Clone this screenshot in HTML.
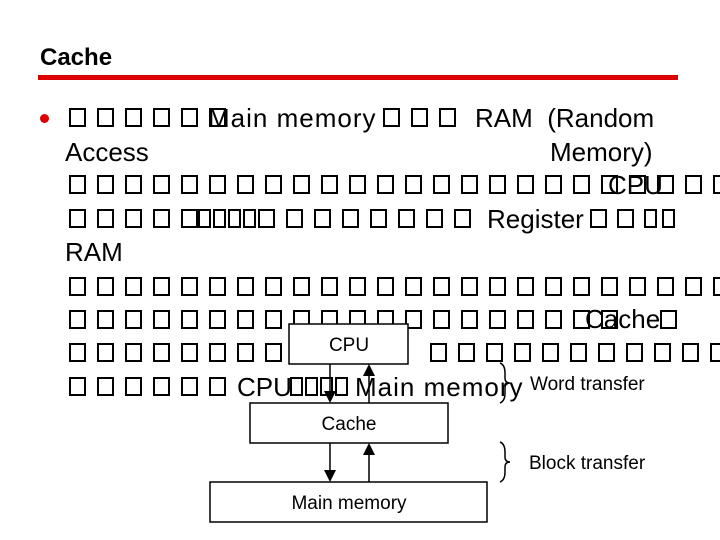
<!DOCTYPE html>
<html><head><meta charset="utf-8"><style>
body{margin:0;width:720px;height:540px;background:#fff;position:relative;overflow:hidden;font-family:"Liberation Sans",sans-serif;}
.t{position:absolute;font-size:26px;line-height:26px;color:#000;white-space:nowrap;}
.b{position:absolute;width:17px;height:19px;border:2px solid #000;box-sizing:border-box;}
.n{position:absolute;width:13px;height:19px;border:2px solid #000;box-sizing:border-box;}
</style></head><body>
<div class="t" style="left:40px;top:45px;font-weight:bold;font-size:24px;">Cache</div>
<div style="position:absolute;left:38px;top:75px;width:640px;height:5px;background:#d00;"></div>
<div style="position:absolute;left:40px;top:114px;width:9px;height:9px;border-radius:50%;background:#d00;"></div>
<div id="c"></div>
<div class="t" style="left:208px;top:105px;letter-spacing:1px;">Main memory</div>
<div class="t" style="left:475px;top:105px;">RAM&nbsp; (Random</div>
<div class="t" style="left:65px;top:139px;">Access</div>
<div class="t" style="left:550px;top:139px;">Memory)</div>
<div class="t" style="left:608px;top:172px;">CPU</div>
<div class="t" style="left:487px;top:206px;">Register</div>
<div class="t" style="left:65px;top:239px;">RAM</div>
<div class="t" style="left:585px;top:306px;">Cache</div>
<div class="t" style="left:237px;top:374px;">CPU</div>
<div class="t" style="left:355px;top:374px;letter-spacing:1px;">Main memory</div>
<svg style="position:absolute;left:0;top:0" width="720" height="540">
<g fill="#fff" stroke="#000" stroke-width="1.5">
<rect x="289" y="324" width="119" height="40"/>
<rect x="250" y="403" width="198" height="40"/>
<rect x="210" y="482" width="277" height="40"/>
</g>
<g font-family="Liberation Sans,sans-serif" font-size="19" text-anchor="middle">
<text x="349" y="351">CPU</text>
<text x="349" y="430">Cache</text>
<text x="349" y="509">Main memory</text>
</g>
<g font-family="Liberation Sans,sans-serif" font-size="19">
<text x="530" y="390">Word transfer</text>
<text x="529" y="469">Block transfer</text>
</g>
<g stroke="#000" stroke-width="1.5" fill="none">
<line x1="330" y1="364" x2="330" y2="393"/><line x1="369" y1="403" x2="369" y2="372"/>
<line x1="330" y1="443" x2="330" y2="470"/><line x1="369" y1="482" x2="369" y2="452"/>
<path d="M500 363 q5 2 5 10 v5 q0 5 5 5 q-5 0 -5 5 v5 q0 8 -5 10"/>
<path d="M500 442 q5 2 5 10 v5 q0 5 5 5 q-5 0 -5 5 v5 q0 8 -5 10"/>
</g>
<g fill="#000">
<polygon points="324,391 336,391 330,403"/><polygon points="363,376 375,376 369,364"/>
<polygon points="324,470 336,470 330,482"/><polygon points="363,455 375,455 369,443"/>
</g>
</svg>
<script>
var c=document.getElementById('c'),h='';
function B(x,y,cl){h+='<div class="'+(cl||'b')+'" style="left:'+x+'px;top:'+y+'px"></div>';}
function row(y,a,b2){for(var i=a;i<=b2;i++)B(Math.round(69+28*i),y);}
row(108,0,5);B(383,108);B(411,108);B(439,108);
row(175,0,23);
row(209,0,4);for(var i=0;i<4;i++)B(198+15*i,209,'n');
for(var i=0;i<8;i++)B(258+28*i,209);
B(590,209);B(617,209);B(644,209,'n');B(662,209,'n');
row(277,0,23);
row(310,0,19);B(660,310);
row(343,0,7);for(var i=0;i<11;i++)B(Math.round(430+28*i),343);
row(377,0,5);for(var i=0;i<4;i++)B(290+15*i,377,'n');
c.innerHTML=h;
</script>
</body></html>
